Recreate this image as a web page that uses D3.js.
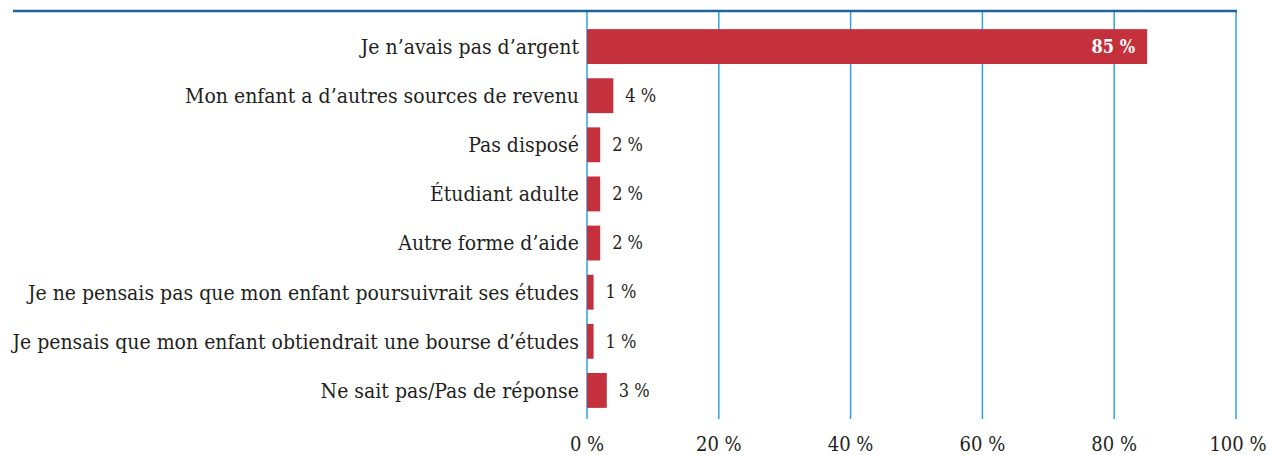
<!DOCTYPE html>
<html>
<head>
<meta charset="utf-8">
<script src="https://cdn.jsdelivr.net/npm/d3@7"></script>
<style>
  body { margin: 0; background: #fff; }
</style>
</head>
<body>
<div id="chart"></div>
<script>
// Data
const categories = [
    "Je n\u2019avais pas d\u2019argent",
    "Mon enfant a d\u2019autres sources de revenu",
    "Pas dispos\u00e9",
    "\u00c9tudiant adulte",
    "Autre forme d\u2019aide",
    "Je ne pensais pas que mon enfant poursuivrait ses \u00e9tudes",
    "Je pensais que mon enfant obtiendrait une bourse d\u2019\u00e9tudes",
    "Ne sait pas/Pas de r\u00e9ponse"
];
const values = [85, 4, 2, 2, 2, 1, 1, 3];
const xTicks = [0, 20, 40, 60, 80, 100];

const FONT = "DejaVu Serif Condensed";
const TEXT_COLOR = "#231f20";

// Dimensions
const W = 1273, H = 455;
const margin = { top: 11, left: 587 };
const plotW = 649;      // frame right edge
const plotH = 408;

const svg = d3.select('#chart')
    .append('svg')
    .attr('width', W)
    .attr('height', H);

const g = svg.append('g')
    .attr('transform', `translate(${margin.left},${margin.top})`);

// Scales
const x = d3.scaleLinear()
    .domain([0, 100])
    .range([0, 659]);

const y = d3.scaleBand()
    .domain(categories)
    .range([11, 404])
    .paddingInner(0.29)
    .paddingOuter(0.145);

// Gridlines (last one sits on the frame edge)
g.selectAll('.grid')
    .data(xTicks)
    .join('line')
    .attr('class', 'grid')
    .attr('x1', d => Math.min(x(d), plotW))
    .attr('x2', d => Math.min(x(d), plotW))
    .attr('y1', 0)
    .attr('y2', plotH)
    .attr('stroke', '#2ba6dc')
    .attr('stroke-width', 1.5);

// Top rule
g.append('line')
    .attr('x1', 13 - margin.left)
    .attr('x2', plotW + 1)
    .attr('y1', 0)
    .attr('y2', 0)
    .attr('stroke', '#1d639e')
    .attr('stroke-width', 2.5);

// Bars
g.selectAll('.bar')
    .data(values)
    .join('rect')
    .attr('class', 'bar')
    .attr('x', 0)
    .attr('y', (d, i) => y(categories[i]))
    .attr('width', d => x(d))
    .attr('height', y.bandwidth())
    .attr('fill', '#c4303c');

// Category labels
g.selectAll('.cat')
    .data(categories)
    .join('text')
    .attr('class', 'cat')
    .attr('x', -8)
    .attr('y', d => y(d) + y.bandwidth() / 2)
    .attr('dy', '0.35em')
    .attr('text-anchor', 'end')
    .attr('font-family', FONT)
    .attr('font-size', 21)
    .attr('fill', TEXT_COLOR)
    .text(d => d);

// Value labels
g.selectAll('.val')
    .data(values)
    .join('text')
    .attr('class', 'val')
    .attr('x', d => d > 50 ? x(d) - 12 : x(d) + 12)
    .attr('y', (d, i) => y(categories[i]) + y.bandwidth() / 2)
    .attr('dy', '0.35em')
    .attr('text-anchor', d => d > 50 ? 'end' : 'start')
    .attr('font-family', FONT)
    .attr('font-size', 18)
    .attr('font-weight', d => d > 50 ? 'bold' : 'normal')
    .attr('fill', d => d > 50 ? '#fff' : TEXT_COLOR)
    .text(d => `${d}\u00a0%`);

// X tick labels
g.selectAll('.tick-label')
    .data(xTicks)
    .join('text')
    .attr('class', 'tick-label')
    .attr('x', d => Math.min(x(d), plotW + 2))
    .attr('y', 440)
    .attr('text-anchor', 'middle')
    .attr('font-family', FONT)
    .attr('font-size', 20)
    .attr('fill', TEXT_COLOR)
    .text(d => `${d}\u00a0%`);
</script>
</body>
</html>
